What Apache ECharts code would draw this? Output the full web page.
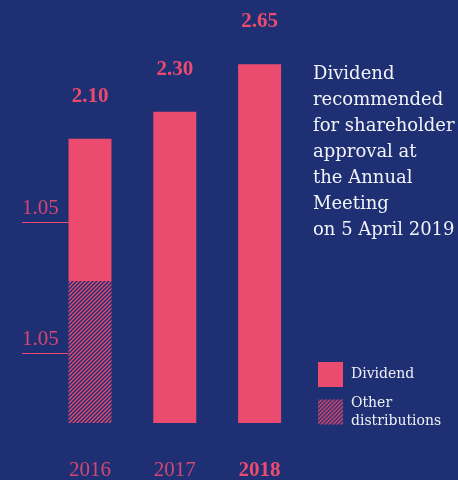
<!DOCTYPE html>
<html>
<head>
<meta charset="utf-8">
<script src="https://cdn.jsdelivr.net/npm/echarts@6/dist/echarts.min.js"></script>
<style>
  html, body { margin: 0; padding: 0; background: #1f2f73; }
  #chart { width: 458px; height: 480px; }
</style>
</head>
<body>
<div id="chart"></div>
<script>
  // data
  var years = ['2016', '2017', '2018']
  var dividend = [1.05, 2.30, 2.65]
  var otherDistributions = [1.05, 0, 0]
  var note = 'Dividend\nrecommended\nfor shareholder\napproval at\nthe Annual\nMeeting\non 5 April 2019'

  var pink = '#ea4b6f'
  var mutedPink = '#d4486f'
  var navy = '#1f2f73'
  var digitFont = 'Liberation Serif'
  var textFont = 'DejaVu Serif'

  // diagonal hatch for "Other distributions"
  function makeHatch () {
    var c = document.createElement('canvas')
    c.width = 4
    c.height = 4
    var ctx = c.getContext('2d')
    ctx.fillStyle = navy
    ctx.fillRect(0, 0, 4, 4)
    ctx.strokeStyle = pink
    ctx.lineWidth = 1.3
    ctx.beginPath()
    ctx.moveTo(-1, 5); ctx.lineTo(5, -1)
    ctx.moveTo(-1, 1); ctx.lineTo(1, -1)
    ctx.moveTo(3, 5); ctx.lineTo(5, 3)
    ctx.stroke()
    return c
  }
  var hatch = { image: makeHatch(), repeat: 'repeat' }

  var myChart = echarts.init(document.getElementById('chart'))
  var option = {
    backgroundColor: navy,
    animation: false,
    textStyle: { fontFamily: textFont },
    grid: { left: 47.6, right: 156, top: 17, bottom: 57, outerBoundsMode: 'none' },
    legend: {
      data: ['Dividend', 'Other distributions'],
      orient: 'vertical',
      left: 313,
      top: 357,
      icon: 'rect',
      itemWidth: 25,
      itemHeight: 25,
      itemGap: 7,
      formatter: function (n) {
        return n === 'Other distributions' ? '{t|Other}\n{t|distributions}' : '{t|' + n + '}'
      },
      textStyle: {
        color: '#eef0f6',
        fontFamily: textFont,
        fontSize: 14,
        lineHeight: 18,
        padding: [0, 0, 0, 3],
        rich: {
          t: { color: '#eef0f6', fontFamily: textFont, fontSize: 14, lineHeight: 18 }
        }
      }
    },
    xAxis: {
      type: 'category',
      data: years,
      axisLine: { show: false },
      axisTick: { show: false },
      axisLabel: {
        interval: 0,
        margin: 37,
        color: mutedPink,
        fontFamily: digitFont,
        fontSize: 21,
        formatter: function (v) {
          return v === years[years.length - 1] ? '{b|' + v + '}' : v
        },
        rich: {
          b: { color: pink, fontWeight: 'bold', fontFamily: digitFont, fontSize: 21 }
        }
      }
    },
    yAxis: {
      type: 'value',
      min: 0,
      max: 3,
      show: false,
      splitLine: { show: false }
    },
    series: [
      {
        name: 'Other distributions',
        type: 'bar',
        stack: 'total',
        barWidth: 43,
        itemStyle: { color: hatch },
        data: otherDistributions
      },
      {
        name: 'Dividend',
        type: 'bar',
        stack: 'total',
        barWidth: 43,
        itemStyle: { color: pink },
        label: {
          show: true,
          position: 'top',
          distance: 32,
          color: pink,
          fontFamily: digitFont,
          fontWeight: 'bold',
          fontSize: 21,
          formatter: function (p) {
            return (dividend[p.dataIndex] + otherDistributions[p.dataIndex]).toFixed(2)
          }
        },
        data: dividend
      }
    ],
    graphic: [
      {
        type: 'text',
        left: 313,
        top: 61,
        style: {
          text: note,
          fill: '#f2f3f8',
          font: '18px "DejaVu Serif", serif',
          lineHeight: 26
        }
      }
    ]
  }
  myChart.setOption(option)

  // "1.05" call-outs on the left of the 2016 bar
  var x0 = myChart.convertToPixel({ xAxisIndex: 0 }, years[0]) - 21.5
  var segs = [
    { from: 0, to: otherDistributions[0], value: otherDistributions[0], shift: 1 },
    { from: otherDistributions[0], to: otherDistributions[0] + dividend[0], value: dividend[0], shift: 12 }
  ]
  var extra = []
  segs.forEach(function (s) {
    var yTop = myChart.convertToPixel({ yAxisIndex: 0 }, s.to)
    var yBot = myChart.convertToPixel({ yAxisIndex: 0 }, s.from)
    var lineY = Math.round((yTop + yBot) / 2 + s.shift)
    extra.push({
      type: 'rect',
      shape: { x: 22, y: lineY, width: Math.round(x0) - 22, height: 1 },
      style: { fill: pink }
    })
    extra.push({
      type: 'text',
      x: 22,
      y: lineY - 3,
      style: {
        text: s.value.toFixed(2),
        fill: mutedPink,
        font: '21px "Liberation Serif", serif',
        verticalAlign: 'bottom'
      }
    })
  })
  myChart.setOption({ graphic: option.graphic.concat(extra) })
</script>
</body>
</html>
